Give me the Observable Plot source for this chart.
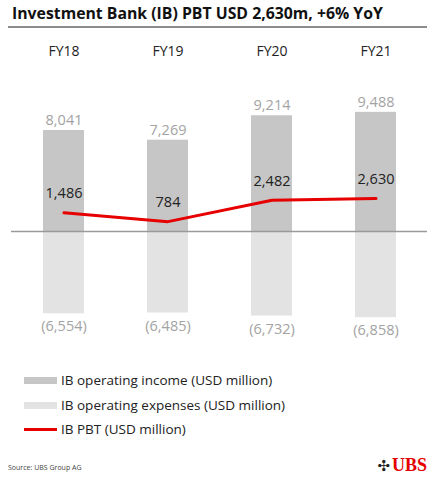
<!DOCTYPE html>
<html>
<head>
<meta charset="utf-8">
<script src="https://cdn.jsdelivr.net/npm/d3@7"></script>
<script src="https://cdn.jsdelivr.net/npm/@observablehq/plot@0.6"></script>
<style>
  body { margin: 0; width: 435px; height: 480px; position: relative; background: #fff; font-family: "Open Sans", sans-serif; color: #222; overflow: hidden; }
  #title { position: absolute; left: 12px; top: 2px; font-size: 15.8px; font-weight: bold; color: #111; white-space: nowrap; }
  #rule { position: absolute; left: 8px; top: 26px; width: 419px; height: 2px; background: #8c8c8c; }
  #chart { position: absolute; left: 0; top: 30px; }
  .leg { position: absolute; left: 24px; font-size: 13.5px; display: flex; align-items: center; white-space: nowrap; }
  .sw { width: 33px; height: 7px; margin-right: 4px; }
  #source { position: absolute; left: 8px; top: 463px; font-size: 7px; color: #444; }
  #logo { position: absolute; right: 8px; top: 455px; font-family: "Liberation Serif", serif; font-weight: bold; font-size: 18px; color: #e60000; white-space: nowrap; }
  #logo span { font-family: "DejaVu Sans", sans-serif; color: #222; font-size: 15px; margin-right: 2px; }
</style>
</head>
<body>
<div id="title">Investment Bank (IB) PBT USD 2,630m, +6% YoY</div>
<div id="rule"></div>
<div id="chart"></div>
<div class="leg" style="top:371px"><div class="sw" style="background:#c6c6c6"></div>IB operating income (USD million)</div>
<div class="leg" style="top:396px"><div class="sw" style="background:#e3e3e3"></div>IB operating expenses (USD million)</div>
<div class="leg" style="top:420px"><div class="sw" style="background:#e60000;height:3px"></div>IB PBT (USD million)</div>
<div id="source">Source: UBS Group AG</div>
<div id="logo"><span>✣</span>UBS</div>
<script>
// valores en USD millones
const years = ["FY18", "FY19", "FY20", "FY21"];
const income = [8041, 7269, 9214, 9488];
const expenses = [-6554, -6485, -6732, -6858];
const pbt = [1486, 784, 2482, 2630];

const data = years.map((year, i) => ({year, income: income[i], expenses: expenses[i], pbt: pbt[i]}));
const fmt = d3.format(",");

// cero en y=201 del svg, 0.01256 px por millon
const k = 0.01256;
const zero = 201;

const chart = Plot.plot({
  width: 435,
  height: 320,
  marginLeft: 11,
  marginRight: 8,
  marginTop: 16,
  marginBottom: 0,
  style: {fontFamily: "Open Sans, sans-serif", overflow: "visible"},
  x: {domain: years, paddingInner: 0.606, paddingOuter: 0.303, axis: null},
  y: {domain: [-8000, 12000], range: [zero + 8000 * k, zero - 12000 * k], axis: null},
  marks: [
    Plot.barY(data, {x: "year", y: "income", fill: "#c6c6c6"}),
    Plot.barY(data, {x: "year", y: "expenses", fill: "#e3e3e3"}),
    Plot.ruleY([0], {stroke: "#9a9a9a", strokeWidth: 1.5}),
    Plot.line(data, {x: "year", y: "pbt", stroke: "#e60000", strokeWidth: 3}),
    Plot.text(data, {x: "year", y: "income", text: d => fmt(d.income), dy: -10, fill: "#a3a3a3", fontSize: 14.5}),
    Plot.text(data, {x: "year", y: "expenses", text: d => `(${fmt(-d.expenses)})`, dy: 13, fill: "#a3a3a3", fontSize: 14.5}),
    Plot.text(data, {x: "year", y: "pbt", text: d => fmt(d.pbt), dy: -19, fill: "#222", fontSize: 14.5}),
    Plot.text(years, {x: d => d, frameAnchor: "top", dy: 0, fill: "#222", fontSize: 14})
  ]
});

d3.select("#chart").append(() => chart);
</script>
</body>
</html>
